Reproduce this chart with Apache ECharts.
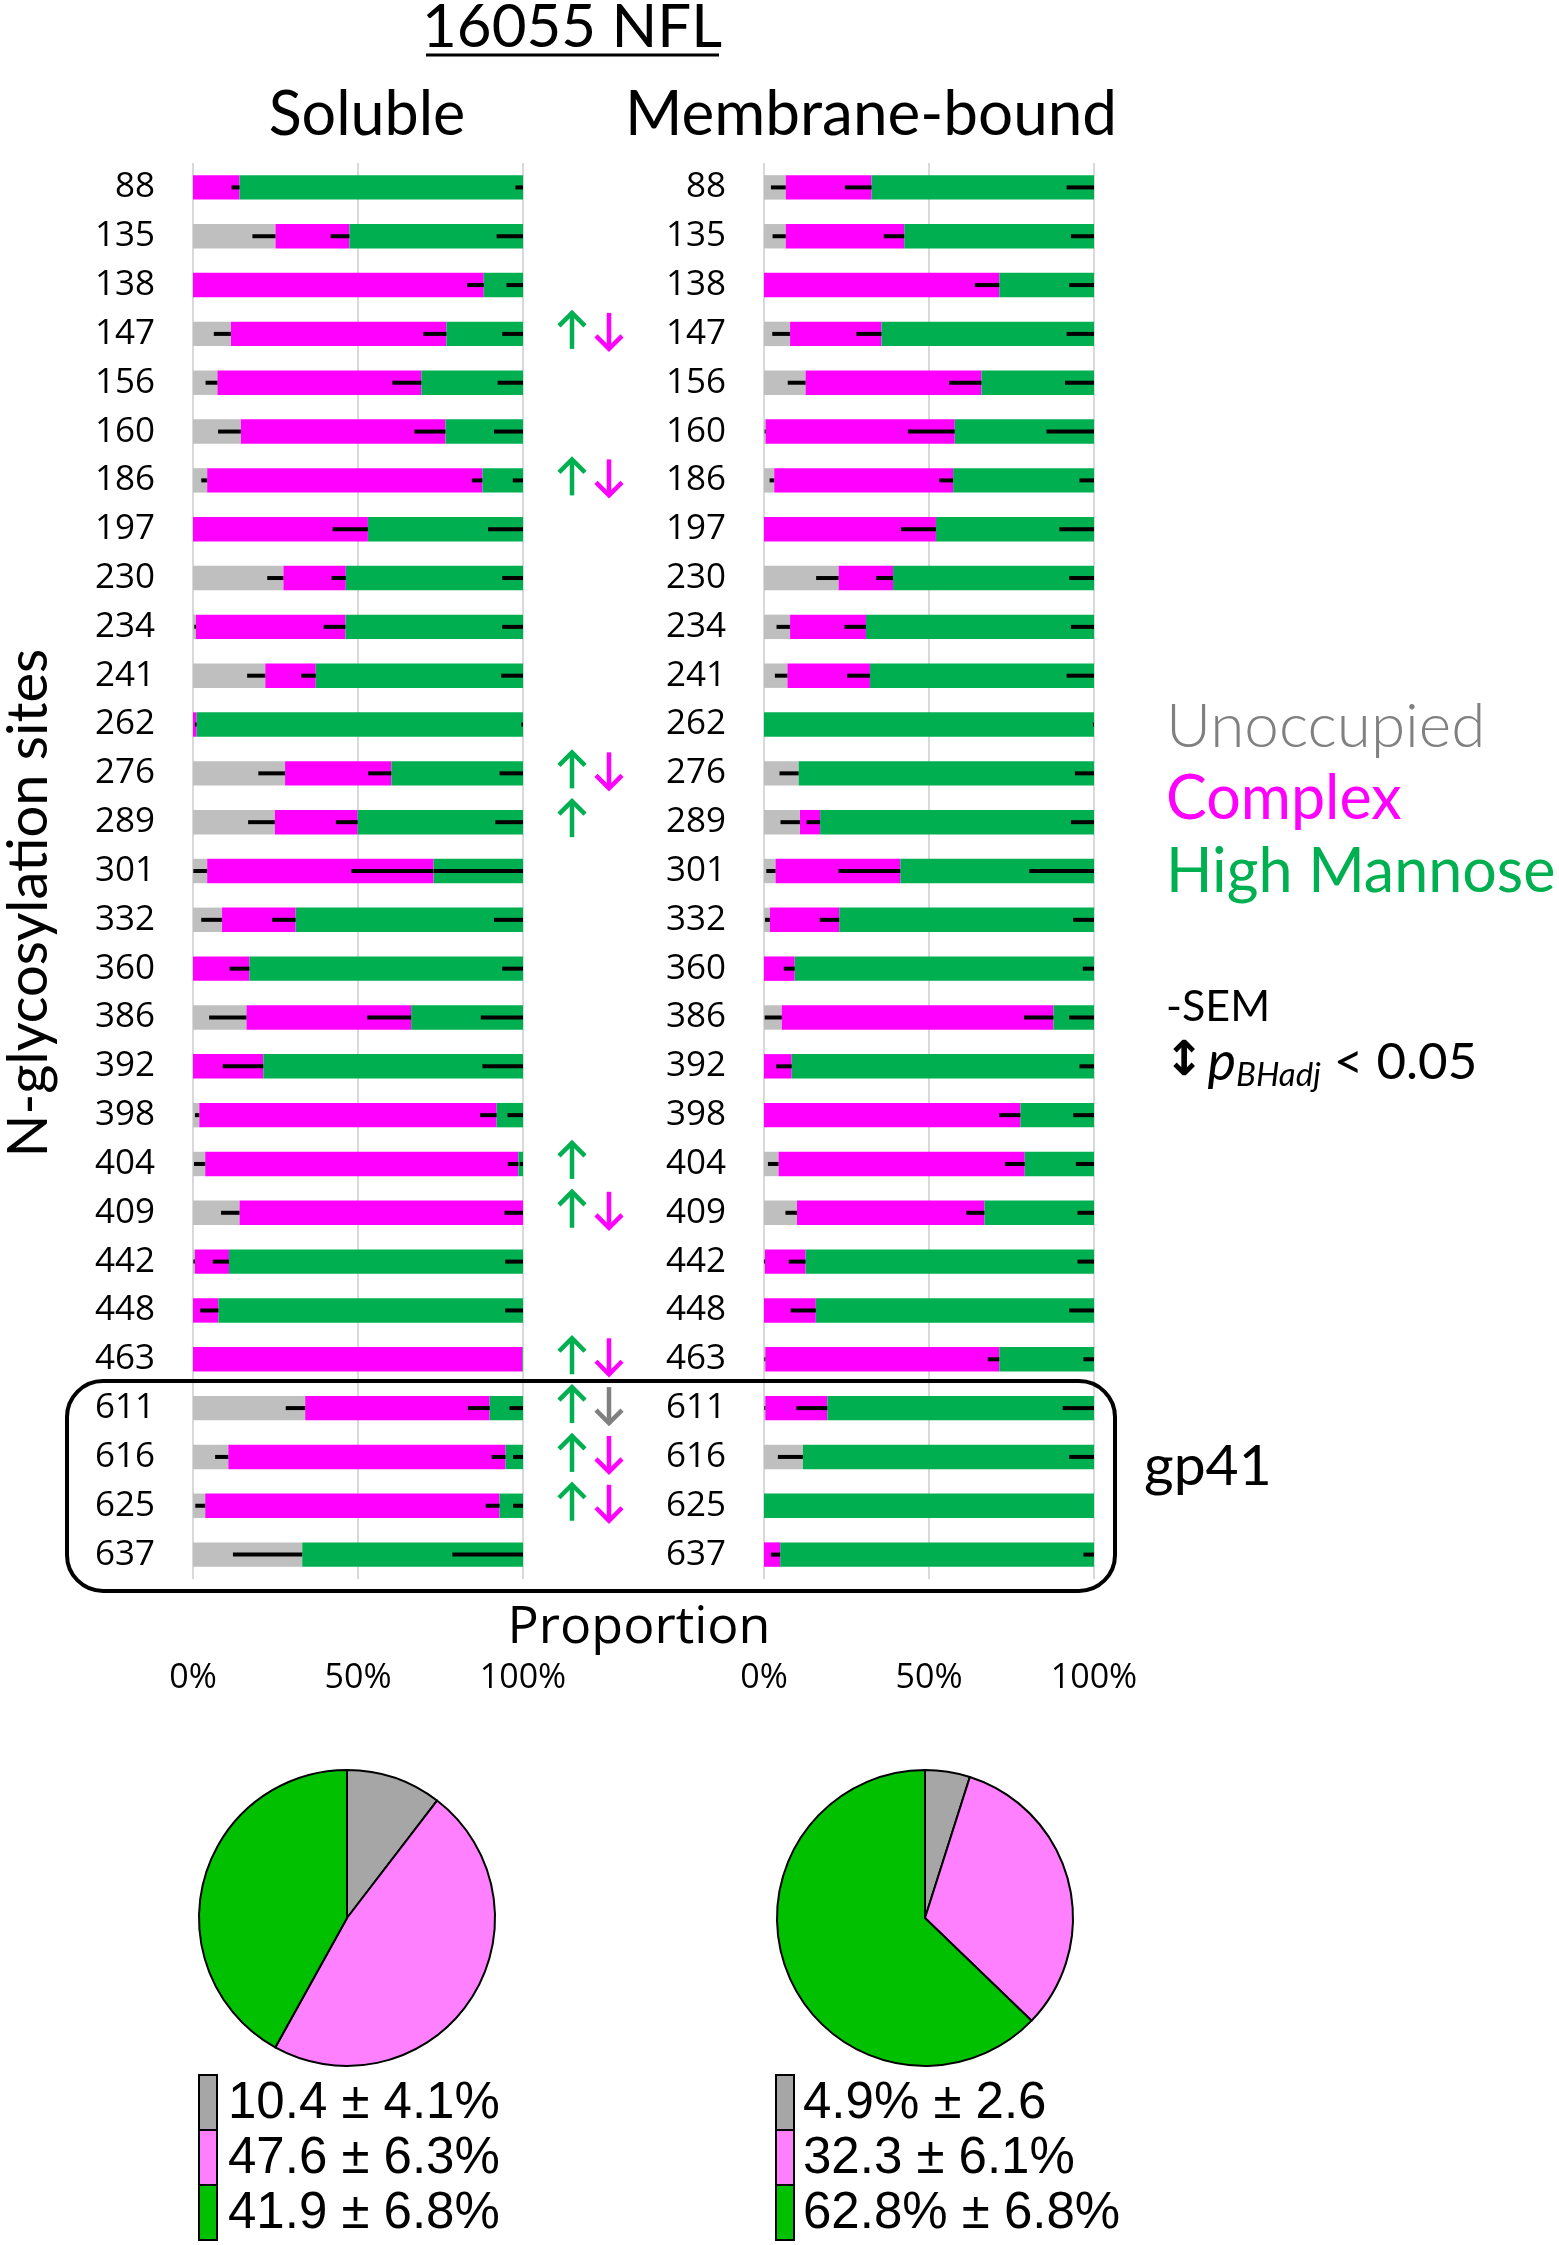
<!DOCTYPE html>
<html>
<head>
<meta charset="utf-8">
<script src="https://cdn.jsdelivr.net/npm/echarts@6/dist/echarts.min.js"></script>
<style>
  html, body { margin: 0; padding: 0; background: #fff; }
  #main { width: 1559px; height: 2245px; }
</style>
</head>
<body>
<div id="main"></div>
<script>
// N-glycosylation sites (top to bottom)
var sites = ['88', '135', '138', '147', '156', '160', '186', '197', '230', '234', '241', '262', '276', '289',
  '301', '332', '360', '386', '392', '398', '404', '409', '442', '448', '463', '611', '616', '625', '637'];

// Soluble, percent of each glycan class
var solUnocc = [0, 25, 0, 11.5, 7.4, 14.5, 4.3, 0, 27.4, 0.9, 21.9, 0, 27.9, 24.8,
  4.3, 8.8, 0, 16.2, 0, 1.9, 3.7, 14.1, 0.6, 0, 0, 34, 10.7, 3.7, 33.1];
var solComplex = [14.1, 22.4, 88.1, 65.3, 61.8, 62, 83.4, 53, 18.9, 45.3, 15.3, 1.1, 32.2, 25.1,
  68.6, 22.3, 17.1, 49.9, 21.3, 90.1, 94.9, 85.9, 10.3, 7.7, 99.8, 55.9, 84, 89.2, 0];
var solHighMan = [85.9, 52.6, 11.9, 23.2, 30.8, 23.5, 12.3, 47, 53.7, 53.8, 62.8, 98.9, 39.9, 50.1,
  27.1, 68.9, 82.9, 33.9, 78.7, 8, 1.4, 0, 89.1, 92.3, 0.2, 10.1, 5.3, 7.1, 66.9];
// Soluble -SEM
var solUnoccSem = [0, 7, 0, 5.2, 3.6, 6.9, 1.8, 0, 4.9, 0.5, 5.5, 0, 8.1, 8.1,
  4.2, 6.3, 0, 11.3, 0, 1.3, 3.4, 5.6, 0.5, 0, 0, 5.9, 4, 3, 21];
var solComplexSem = [2.4, 5.7, 5, 7, 8.8, 9.4, 3.2, 10.7, 4.3, 6.6, 4.4, 0.5, 7, 6.6,
  24.9, 7.1, 6, 13.3, 12.3, 5, 3.2, 5.6, 4.9, 5.5, 0, 6.6, 4.2, 4.2, 0];
var solHighManSem = [2.3, 8, 5, 6.3, 7.7, 8.8, 3.1, 10.6, 6.3, 6.3, 6.6, 0.5, 7.1, 8.4,
  27, 8.8, 6.3, 12.8, 12.3, 4.7, 1, 0, 5.4, 5.4, 0, 4.1, 3, 3, 21.4];

// Membrane-bound
var memUnocc = [6.6, 6.6, 0, 7.9, 12.6, 0.5, 3.1, 0, 22.6, 7.9, 7.1, 0, 10.5, 10.9,
  3.5, 1.8, 0, 5.4, 0, 0, 4.4, 10, 0.3, 0, 0.4, 0.4, 11.8, 0, 0];
var memComplex = [26, 35.9, 71.3, 27.7, 53.3, 57.3, 54.2, 52.1, 16.5, 23, 25, 0, 0, 6.1,
  37.8, 21, 9.3, 82.3, 8.4, 77.7, 74.6, 56.8, 12.3, 15.7, 70.9, 18.8, 0, 0, 4.9];
var memHighMan = [67.4, 57.5, 28.7, 64.4, 34.1, 42.2, 42.7, 47.9, 60.9, 69.1, 67.9, 100, 89.5, 83,
  58.7, 77.2, 90.7, 12.3, 91.6, 22.3, 21, 33.2, 87.4, 84.3, 28.7, 80.8, 88.2, 100, 95.1];
var memUnoccSem = [4.5, 4, 0, 5.4, 5.4, 0.3, 1.4, 0, 6.8, 4.1, 3.8, 0, 5.8, 5.9,
  2.8, 1.5, 0, 5.2, 0, 0, 3.2, 3.5, 0.3, 0, 0.3, 0.3, 7.6, 0, 0];
var memComplexSem = [8.1, 6.2, 7.4, 7.6, 9.8, 14.2, 4.2, 10.6, 5.1, 6.5, 6.9, 0, 0, 4.1,
  18.7, 5.9, 3.3, 8.9, 4.7, 6.4, 6, 5.5, 5.1, 7.6, 3.5, 9.4, 0, 0, 2.8];
var memHighManSem = [8.3, 7, 7.5, 8.3, 8.8, 14.4, 4.4, 10.5, 7.5, 7, 8.3, 0.3, 5.8, 7,
  19.6, 6.3, 3.4, 7.5, 4.4, 6.3, 5.5, 5, 5, 7.5, 3.2, 9.5, 7.5, 0, 3.2];

// significance arrows (soluble vs membrane-bound)
var arrowSites = ['147', '186', '276', '289', '404', '409', '463', '611', '616', '625'];
var arrowUp = ['hm', 'hm', 'hm', 'hm', 'hm', 'hm', 'hm', 'hm', 'hm', 'hm'];
var arrowDown = ['complex', 'complex', 'complex', '', '', 'complex', 'complex', 'unocc', 'complex', 'complex'];

// overall composition pies
var pieNames = ['Unoccupied', 'Complex', 'High Mannose'];
var solPie = [10.4, 47.6, 41.9];
var memPie = [4.9, 32.3, 62.8];
var solPieText = ['10.4 \u00b1 4.1%', '47.6 \u00b1 6.3%', '41.9 \u00b1 6.8%'];
var memPieText = ['4.9% \u00b1 2.6', '32.3 \u00b1 6.1%', '62.8% \u00b1 6.8%'];

var barColors = { unocc: '#bfbfbf', complex: '#ff00ff', hm: '#00b050' };
var arrowColors = { unocc: '#808080', complex: '#ff00ff', hm: '#00b050' };
var pieColors = ['#a6a6a6', '#ff80ff', '#00c000'];

var chart = echarts.init(document.getElementById('main'));

function errData(segs, sems) {
  var out = [];
  for (var i = 0; i < sites.length; i++) {
    var cum = 0;
    for (var s = 0; s < segs.length; s++) {
      cum += segs[s][i];
      if (segs[s][i] > 0 && sems[s][i] > 0) {
        out.push([cum, i, sems[s][i]]);
      }
    }
  }
  return out;
}

function renderErr(params, api) {
  var end = api.value(0), idx = api.value(1), sem = api.value(2);
  var a = api.coord([Math.max(0, end - sem), idx]);
  var b = api.coord([end, idx]);
  return {
    type: 'line',
    shape: { x1: a[0], y1: a[1], x2: b[0], y2: b[1] },
    style: { stroke: '#000', lineWidth: 4 }
  };
}

function arrowShape(x, y, dir, color) {
  var h = 18, w = 13;
  var tip = y - dir * h;
  return {
    type: 'group',
    children: [
      { type: 'line', shape: { x1: x, y1: y - h + (dir > 0 ? 2 : 0), x2: x, y2: y + h - (dir < 0 ? 2 : 0) },
        style: { stroke: color, lineWidth: 4.5 } },
      { type: 'polyline', shape: { points: [[x - w, tip + dir * w], [x, tip], [x + w, tip + dir * w]] },
        style: { stroke: color, lineWidth: 4.5, fill: null, lineJoin: 'miter' } }
    ]
  };
}

function renderArrows(params, api) {
  var idx = api.value(0), k = api.value(1);
  var base = api.coord([100, idx]);
  var y = base[1] - 3;
  var kids = [];
  if (arrowUp[k]) kids.push(arrowShape(base[0] + 49, y, 1, arrowColors[arrowUp[k]]));
  if (arrowDown[k]) kids.push(arrowShape(base[0] + 86, y, -1, arrowColors[arrowDown[k]]));
  return { type: 'group', children: kids };
}

var panels = [
  { segs: [solUnocc, solComplex, solHighMan], sems: [solUnoccSem, solComplexSem, solHighManSem] },
  { segs: [memUnocc, memComplex, memHighMan], sems: [memUnoccSem, memComplexSem, memHighManSem] }
];
var segKeys = ['unocc', 'complex', 'hm'];

var series = [];
panels.forEach(function (p, pi) {
  p.segs.forEach(function (arr, s) {
    series.push({
      type: 'bar',
      name: pieNames[s],
      stack: 'panel' + pi,
      xAxisIndex: pi,
      yAxisIndex: pi,
      barWidth: '50%',
      silent: true,
      itemStyle: { color: barColors[segKeys[s]] },
      data: arr
    });
  });
  series.push({
    type: 'custom',
    xAxisIndex: pi,
    yAxisIndex: pi,
    silent: true,
    z: 5,
    renderItem: renderErr,
    encode: { x: 0, y: 1 },
    data: errData(p.segs, p.sems)
  });
});

series.push({
  type: 'custom',
  xAxisIndex: 0,
  yAxisIndex: 0,
  silent: true,
  clip: false,
  z: 5,
  renderItem: renderArrows,
  encode: { y: 0 },
  data: arrowSites.map(function (s, k) { return [sites.indexOf(s), k]; })
});

function pieSeries(vals, cx) {
  return {
    type: 'pie',
    center: [cx, 1918],
    radius: 148,
    startAngle: 90,
    clockwise: true,
    silent: true,
    label: { show: false },
    labelLine: { show: false },
    itemStyle: { borderColor: '#000', borderWidth: 2 },
    data: vals.map(function (v, i) {
      return { value: v, name: pieNames[i], itemStyle: { color: pieColors[i] } };
    })
  };
}
series.push(pieSeries(solPie, 347));
series.push(pieSeries(memPie, 925));

function pieLegend(texts, bx, tx) {
  var els = [];
  texts.forEach(function (t, i) {
    els.push({ type: 'rect', shape: { x: bx, y: 2075 + i * 55, width: 18, height: 55 },
      style: { fill: pieColors[i], stroke: '#000', lineWidth: 2 } });
    els.push({ type: 'text', x: tx, y: 2104 + i * 55,
      style: { text: t, fill: '#000', font: '51px "Liberation Sans", Arial, sans-serif',
        textAlign: 'left', textVerticalAlign: 'middle' } });
  });
  return els;
}

var txtFont = 'Lato, "Open Sans", sans-serif';
var graphics = [
  { type: 'text', x: 572, y: 28, style: { text: '16055 NFL', fill: '#000', font: '60px ' + txtFont,
    textAlign: 'center', textVerticalAlign: 'middle' } },
  { type: 'line', shape: { x1: 426, y1: 55, x2: 719, y2: 55 }, style: { stroke: '#000', lineWidth: 3 } },
  { type: 'text', x: 367, y: 115, style: { text: 'Soluble', fill: '#000', font: '61px ' + txtFont,
    textAlign: 'center', textVerticalAlign: 'middle' } },
  { type: 'text', x: 871, y: 115, style: { text: 'Membrane-bound', fill: '#000', font: '62px ' + txtFont,
    textAlign: 'center', textVerticalAlign: 'middle' } },
  { type: 'text', x: 29, y: 903, rotation: Math.PI / 2, style: { text: 'N-glycosylation sites', fill: '#000',
    font: '56px ' + txtFont, textAlign: 'center', textVerticalAlign: 'middle' } },
  { type: 'text', x: 1166, y: 727, style: { text: 'Unoccupied', fill: '#808080', font: '300 62px ' + txtFont,
    textAlign: 'left', textVerticalAlign: 'middle' } },
  { type: 'text', x: 1166, y: 799, style: { text: 'Complex', fill: '#ff00ff', font: '61px ' + txtFont,
    textAlign: 'left', textVerticalAlign: 'middle' } },
  { type: 'text', x: 1166, y: 872, style: { text: 'High Mannose', fill: '#00b050', font: '61px ' + txtFont,
    textAlign: 'left', textVerticalAlign: 'middle' } },
  { type: 'text', x: 1166, y: 1007, style: { text: '-SEM', fill: '#000', font: '43px ' + txtFont,
    textAlign: 'left', textVerticalAlign: 'middle' } },
  { type: 'text', x: 1164, y: 1063, style: {
    text: '{a|\u2195} {p|p}{s|BHadj}{n| < 0.05}',
    textAlign: 'left', textVerticalAlign: 'middle',
    rich: {
      a: { font: 'bold 48px "DejaVu Sans", sans-serif', fill: '#000' },
      p: { font: 'italic 54px ' + txtFont, fill: '#000' },
      s: { font: 'italic 33px ' + txtFont, fill: '#000', padding: [24, 0, 0, 0] },
      n: { font: '51px ' + txtFont, fill: '#000' }
    } } },
  { type: 'rect', shape: { x: 67, y: 1381, width: 1048, height: 210, r: 36 },
    style: { fill: null, stroke: '#000', lineWidth: 4 }, z: 10 },
  { type: 'text', x: 1144, y: 1467, style: { text: 'gp41', fill: '#000', font: '57px ' + txtFont,
    textAlign: 'left', textVerticalAlign: 'middle' } },
  { type: 'text', x: 639, y: 1628, style: { text: 'Proportion', fill: '#000', font: '52px "Open Sans", sans-serif',
    textAlign: 'center', textVerticalAlign: 'middle' } }
].concat(pieLegend(solPieText, 199, 228)).concat(pieLegend(memPieText, 776, 803));

var option = {
  animation: false,
  backgroundColor: '#fff',
  grid: [
    { left: 193, top: 163, width: 330, height: 1416 },
    { left: 764, top: 163, width: 330, height: 1416 }
  ],
  xAxis: [0, 1].map(function (i) {
    return {
      gridIndex: i, type: 'value', min: 0, max: 100, interval: 50,
      axisLine: { show: false }, axisTick: { show: false },
      splitLine: { show: true, lineStyle: { color: '#d9d9d9', width: 2 } },
      axisLabel: { formatter: '{value}%', margin: 82, fontSize: 34, color: '#000',
        fontFamily: '"Open Sans", sans-serif' }
    };
  }),
  yAxis: [0, 1].map(function (i) {
    return {
      gridIndex: i, type: 'category', data: sites, inverse: true,
      axisLine: { show: false }, axisTick: { show: false },
      axisLabel: { fontSize: 35, color: '#000', margin: 38, fontFamily: '"Open Sans", sans-serif' }
    };
  }),
  series: series,
  graphic: graphics
};

chart.setOption(option);
</script>
</body>
</html>
